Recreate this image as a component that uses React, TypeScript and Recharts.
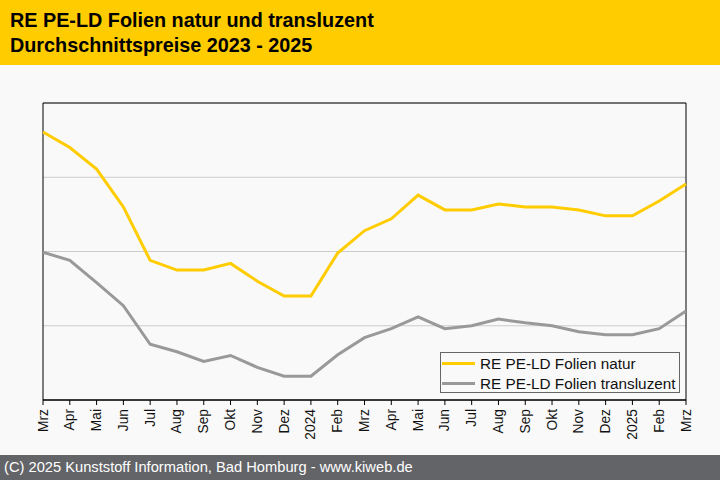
import React from "react";
import { LineChart, Line, XAxis, YAxis, CartesianGrid, ReferenceArea } from "recharts";

const months = ["Mrz","Apr","Mai","Jun","Jul","Aug","Sep","Okt","Nov","Dez","2024","Feb","Mrz","Apr","Mai","Jun","Jul","Aug","Sep","Okt","Nov","Dez","2025","Feb","Mrz"];
const natur = [361,340,311,260,188,175,175,184,160,140,140,198,228,244,276,256,256,264,260,260,256,248,248,268,291];
const transluzent = [199,188,158,127,75,65,52,60,44,32,32,61,84,96,112,96,100,109,104,100,92,88,88,96,120];
const yTicks = [0,100,200,300,400];

const seriesNames = ["RE PE-LD Folien natur", "RE PE-LD Folien transluzent"];
const colors = ["#FFCC00", "#999999"];

const data = months.map((m, i) => ({ m, natur: natur[i], transluzent: transluzent[i] }));

const FONT = "'Liberation Sans', Arial, Helvetica, sans-serif";

const RotTick = (props: any) => {
  const { x, y, payload } = props;
  return (
    <text x={x} y={y + 2} transform={`rotate(-90, ${x}, ${y + 2})`} textAnchor="end" dominantBaseline="central" fontSize={13.8} fontFamily={FONT} fill="#111">
      {payload.value}
    </text>
  );
};

const LegendBox = () => (
  <div style={{ position: "absolute", left: 440, top: 352, border: "1px solid #666", background: "#F9F9F9", width: 238, height: 39, boxSizing: "content-box", fontFamily: FONT, fontSize: 15.3, color: "#111" }}>
    {seriesNames.map((n, i) => (
      <div key={n} style={{ position: "absolute", left: 0, top: i === 0 ? 1 : 20.5, height: 19, display: "flex", alignItems: "center" }}>
        <div style={{ width: 33, height: 3, background: colors[i], marginLeft: 1, marginRight: 5 }} />
        <span style={{ whiteSpace: "nowrap", lineHeight: "19px" }}>{n}</span>
      </div>
    ))}
  </div>
);

export default function App() {
  return (
    <div style={{ position: "absolute", left: 0, top: 0, width: 720, height: 480, background: "#F9F9F9", fontFamily: FONT, overflow: "hidden" }}>
      <div style={{ position: "absolute", left: 0, top: 0, width: 720, height: 65, background: "#FFCC00" }}>
        <div style={{ position: "absolute", left: 10, top: 8, fontSize: 19.8, fontWeight: "bold", lineHeight: "25px", color: "#000" }}>
          RE PE-LD Folien natur und transluzent<br />Durchschnittspreise 2023 - 2025
        </div>
      </div>
      <div style={{ position: "absolute", left: 0, top: 65 }}>
        <LineChart width={720} height={390} data={data} margin={{ top: 38, right: 34, bottom: 5, left: 43 }}>
          <CartesianGrid horizontal vertical={false} stroke="#CCCCCC" />
          <XAxis dataKey="m" interval={0} height={50} tick={<RotTick />} tickSize={5} tickLine={{ stroke: "#000" }} axisLine={{ stroke: "#000" }} />
          <YAxis hide domain={[0, 400]} ticks={yTicks} />
          <ReferenceArea y1={0} y2={400} fill="none" stroke="#000" strokeWidth={1} fillOpacity={0} ifOverflow="visible" />
          <Line dataKey="natur" name={seriesNames[0]} stroke={colors[0]} strokeWidth={3} dot={false} isAnimationActive={false} />
          <Line dataKey="transluzent" name={seriesNames[1]} stroke={colors[1]} strokeWidth={3} dot={false} isAnimationActive={false} />
        </LineChart>
      </div>
      <LegendBox />
      <div style={{ position: "absolute", left: 0, top: 455, width: 720, height: 25, background: "#636468", color: "#fff", fontSize: 14.7, lineHeight: "25px" }}>
        <span style={{ marginLeft: 4 }}>(C) 2025 Kunststoff Information, Bad Homburg - www.kiweb.de</span>
      </div>
    </div>
  );
}
